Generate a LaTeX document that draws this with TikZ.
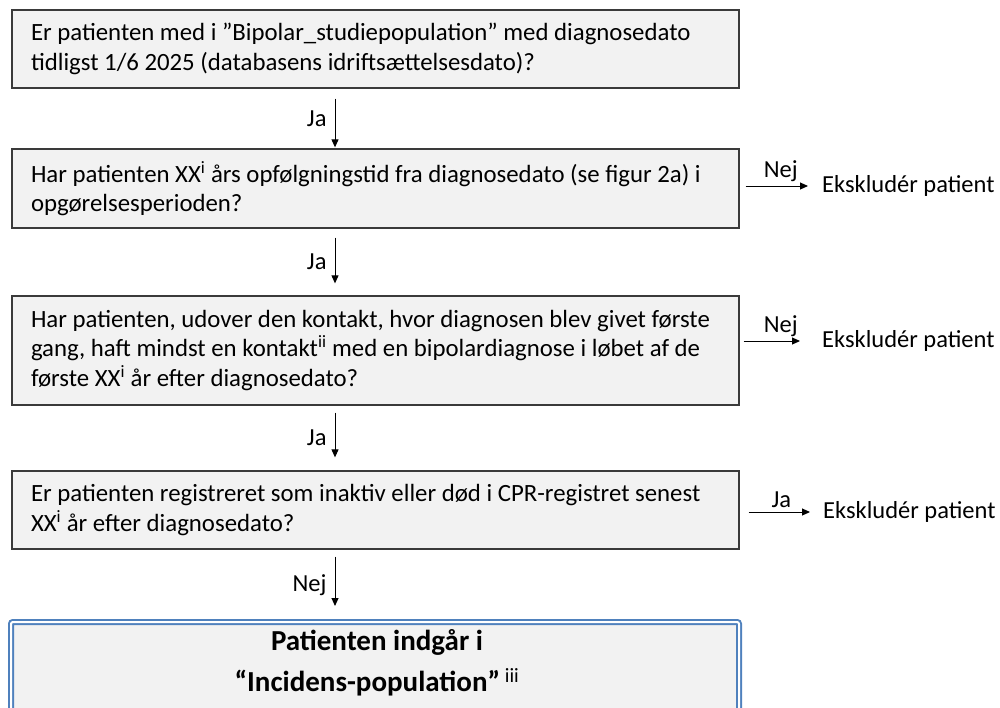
\documentclass[tikz,border=0pt]{standalone}
\usepackage{fontspec}
\setmainfont{Carlito}
\usetikzlibrary{arrows.meta}
\definecolor{boxfill}{HTML}{F2F2F2}
\definecolor{boxline}{HTML}{3A3A3A}
\definecolor{accent}{HTML}{4F81BD}
\begin{document}
\begin{tikzpicture}[x=1pt,y=-1pt,
  qbox/.style={draw=boxline, line width=1.3pt, fill=boxfill, rectangle,
    text width=689pt, inner xsep=19pt, inner ysep=0pt, align=flush left,
    font=\fontsize{24.8}{29.5}\selectfont},
  arr/.style={-{Triangle[length=8pt,width=7pt]}, line width=1pt},
  lbl/.style={font=\fontsize{24.5}{26}\selectfont, inner sep=0pt},
  finalbox/.style={draw=accent, double=white, double distance=2pt, line width=2pt,
    fill=boxfill, rounded corners=2pt, rectangle, inner sep=0pt},
]
\useasboundingbox (0,0) rectangle (1000,707);

\coordinate (ax) at (335,0);

\node[qbox, minimum height=78pt] (q1) at (375.5,49)
  {Er patienten med i ”Bipolar\_studiepopulation” med diagnosedato\\
   tidligst 1/6 2025 (databasens idriftsættelsesdato)?};
\node[qbox, minimum height=79pt] (q2) at (375.5,188.5)
  {Har patienten XX\textsuperscript{i} års opfølgningstid fra diagnosedato (se figur 2a) i\\
   opgørelsesperioden?};
\node[qbox, minimum height=109pt] (q3) at (375.5,350.5)
  {Har patienten, udover den kontakt, hvor diagnosen blev givet første\\
   gang, haft mindst en kontakt\textsuperscript{ii} med en bipolardiagnose i løbet af de\\
   første XX\textsuperscript{i} år efter diagnosedato?};
\node[qbox, minimum height=78pt] (q4) at (375.5,510)
  {Er patienten registreret som inaktiv eller død i CPR-registret senest\\
   XX\textsuperscript{i} år efter diagnosedato?};

\node[finalbox, minimum width=728pt, minimum height=130pt, anchor=north] (fb) at (375,621) {};
\node[font=\bfseries\fontsize{29}{41}\selectfont, align=center, inner sep=0pt] (fin) at (377,662.5)
  {Patienten indgår i\\“Incidens-population”\,\textsuperscript{\mdseries iii}};

\node[lbl, anchor=west] (e1) at (822,186) {Ekskludér patient};
\node[lbl, anchor=west] (e2) at (822,341) {Ekskludér patient};
\node[lbl, anchor=west] (e3) at (823,512) {Ekskludér patient};

\draw[arr, shorten <=10pt, shorten >=1pt] (q1.south -| ax) -- node[lbl, left=8pt] {Ja} (q2.north -| ax);
\draw[arr, shorten <=9pt, shorten >=12pt] (q2.south -| ax) -- node[lbl, left=8pt] {Ja} (q3.north -| ax);
\draw[arr, shorten <=7pt, shorten >=13pt] (q3.south -| ax) -- node[lbl, left=8pt] {Ja} (q4.north -| ax);
\draw[arr, shorten <=7pt, shorten >=15pt] (q4.south -| ax) -- node[lbl, left=8pt] {Nej} (fb.north -| ax);

\draw[arr, shorten <=6pt, shorten >=14pt] (q2.east |- e1) -- node[lbl, above=4pt] {Nej} (e1.west);
\draw[arr, shorten <=4pt, shorten >=22pt] (q3.east |- e2) -- node[lbl, above=4pt] {Nej} (e2.west);
\draw[arr, shorten <=9pt, shorten >=13pt] (q4.east |- e3) -- node[lbl, above=4pt] {Ja} (e3.west);
\end{tikzpicture}
\end{document}
